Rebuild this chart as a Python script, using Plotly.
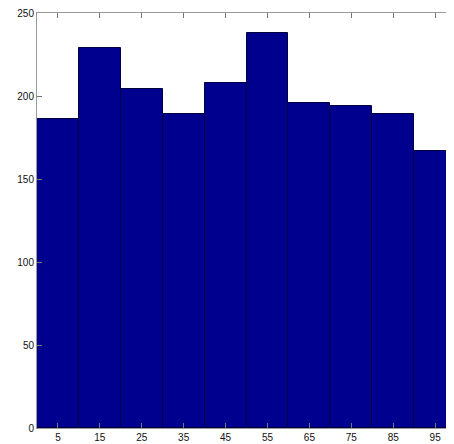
import plotly.graph_objects as go

bin_centers = [5, 15, 25, 35, 45, 55, 65, 75, 85, 95]
counts = [186, 229, 204, 189, 208, 238, 196, 194, 189, 167]
y_ticks = [0, 50, 100, 150, 200, 250]

fig = go.Figure(go.Bar(
    x=bin_centers, y=counts, width=10,
    marker=dict(color="#00008F", line=dict(color="#000040", width=1)),
))
# page body has an 8px default margin, so the figure is sized to fit the window
fig.update_layout(
    width=446, height=436,
    margin=dict(l=29, r=0, t=5, b=16),
    plot_bgcolor="white", paper_bgcolor="white",
    showlegend=False,
    font=dict(family="Liberation Sans, Arial, sans-serif", size=10, color="#111"),
    bargap=0,
)
fig.update_xaxes(range=[0, 99.5], tickvals=bin_centers, ticks="inside", ticklen=5,
                 tickcolor="#777", showline=True, linecolor="#999", mirror="ticks",
                 showgrid=False, zeroline=False, automargin=False,
                 ticklabeloverflow="allow")
fig.update_yaxes(range=[0, 250], tickvals=y_ticks, ticks="inside", ticklen=5,
                 tickcolor="#777", showline=True, linecolor="#999", mirror="ticks",
                 showgrid=False, zeroline=False, automargin=False,
                 ticklabeloverflow="allow")
fig.write_html("out.html")
